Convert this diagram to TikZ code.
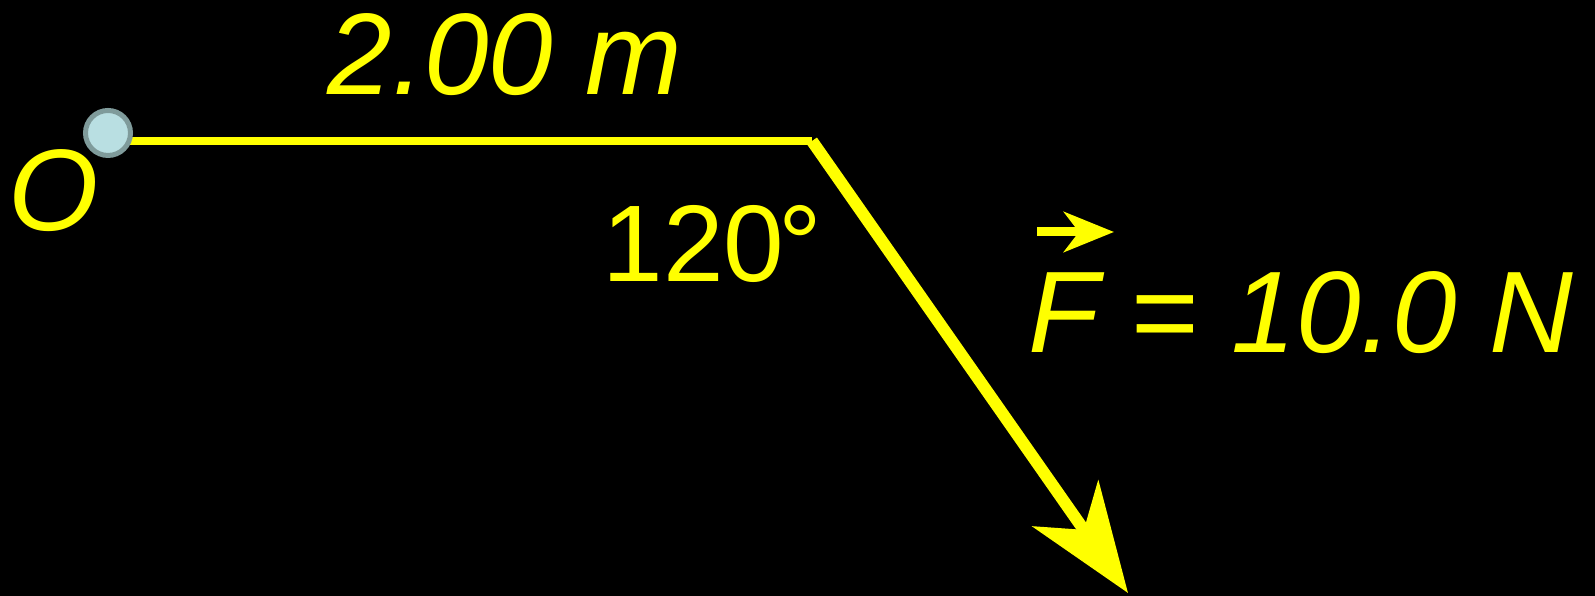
\documentclass[tikz,border=0pt]{standalone}
\usepackage{fontspec}
\setmainfont{Liberation Sans}
\usetikzlibrary{arrows.meta}

\begin{document}
\begin{tikzpicture}[x=1cm,y=1cm, line cap=butt, line join=miter]
  \definecolor{Sun}{HTML}{FFFF00}
  \definecolor{PivotFill}{HTML}{B9DFE2}
  \definecolor{PivotRim}{HTML}{7F9B9B}

  \tikzset{
    lbl/.style={text=Sun, inner sep=0pt, font=\fontsize{33}{40}\selectfont},
    arm/.style={draw=Sun, line width=0.08cm},
    force/.style={draw=Sun, line width=0.12cm, -{Stealth[length=1.09cm, width=0.8cm, inset=0.32cm]}},
    vec/.style={draw=Sun, line width=0.09cm, -{Stealth[length=0.5cm, width=0.4cm, inset=0.15cm]}},
    pivot/.style={circle, draw=PivotRim, fill=PivotFill, line width=0.05cm, minimum size=0.45cm, inner sep=0pt}
  }

  \fill[black] (0,0) rectangle (15.95,-5.96);
  \useasboundingbox (0,0) rectangle (15.95,-5.96);

  % Lever arm from the pivot, then the force
  \coordinate (pivotpt) at (1.08,-1.33);
  \coordinate (corner) at (8.12,-1.41);
  \coordinate (tip) at (11.28,-5.93);
  \draw[arm] (pivotpt |- corner) -- (corner);
  \node[pivot] (O) at (pivotpt) {};
  \draw[force] (corner) -- (tip);

  % Labels
  \node[lbl, anchor=base] (len) at (5.05,-0.95) {\itshape 2.00 m};
  \node[lbl, anchor=base] (Olbl) at (0.54,-2.31) {\itshape O};
  \node[lbl, anchor=base west, font=\fontsize{31}{38}\selectfont] (ang) at (6.02,-2.82) {120\kern-0.06em°};
  \node[lbl, anchor=base west] (Flbl) at (10.28,-3.53) {{\itshape F} = {\itshape 10.0 N}};

  % Vector sign over F
  \coordinate (vecA) at (10.37,-2.32);
  \coordinate (vecB) at (11.14,-2.32);
  \draw[vec] (vecA) -- (vecB);
\end{tikzpicture}
\end{document}
